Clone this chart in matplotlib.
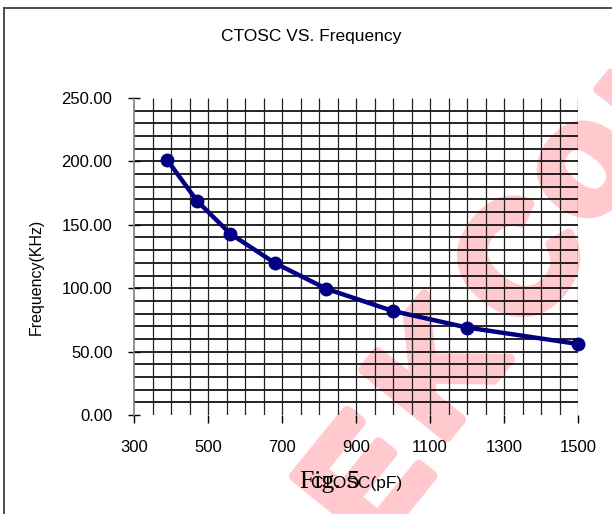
import numpy as np
import matplotlib
matplotlib.use("Agg")
import matplotlib.pyplot as plt
from matplotlib.lines import Line2D
import matplotlib.patheffects as pe

# ---- data ----
ctosc_pf = [390, 470, 560, 680, 820, 1000, 1200, 1500]
freq_khz = [201, 169, 143, 120, 99.5, 82, 69, 56]
x_ticks = [300, 500, 700, 900, 1100, 1300, 1500]
y_ticks = [0, 50, 100, 150, 200, 250]
y_tick_labels = ["0.00", "50.00", "100.00", "150.00", "200.00", "250.00"]
title = "CTOSC VS. Frequency"
x_label = "CTOSC(pF)"
y_label = "Frequency(KHz)"
fig_caption = "Fig. 5"
watermark_letters = ["E", "K", "C", "o", "m"]

W, H = 612, 514
plt.rcParams['font.family'] = ['Liberation Sans', 'DejaVu Sans']

fig = plt.figure(figsize=(W / 100, H / 100), dpi=100)
fig.patch.set_facecolor('white')

def fx(px):
    return px / W

def fy(py):
    return 1 - py / H

# watermark (behind everything)
wm_color = '#ffc9cd'
wm_pos = [(372, 486), (444, 376), (527, 267), (586, 170), (668, 70)]
for ch, (px, py) in zip(watermark_letters, wm_pos):
    fig.text(fx(px), fy(py), ch, fontsize=112, fontweight='bold', color=wm_color,
             rotation=51, rotation_mode='anchor', ha='center', va='center',
             zorder=0,
             path_effects=[pe.withStroke(linewidth=7.5, foreground=wm_color)])

# figure frame
fig.add_artist(Line2D([fx(4), 1.0], [fy(8), fy(8)], color='#404040', lw=1.3, zorder=1))
fig.add_artist(Line2D([fx(4), fx(4)], [0.0, fy(8)], color='#404040', lw=1.3, zorder=1))

ax = fig.add_axes([fx(134), fy(415), fx(578) - fx(134), fy(98) - fy(415)])
ax.set_facecolor('none')
ax.set_zorder(2)
ax.set_xlim(300, 1500)
ax.set_ylim(0, 250)

# grid
ax.hlines(np.arange(10, 250, 10), 300, 1500, color='black', lw=1.2, zorder=1)
ax.vlines(np.arange(350, 1501, 50), 0, 250, color='#222222', lw=0.9, zorder=1)

for s in ['top', 'right', 'bottom']:
    ax.spines[s].set_visible(False)
ax.spines['left'].set_color('#808080')
ax.spines['left'].set_linewidth(1.2)

ax.set_xticks(x_ticks)
ax.set_xticklabels([str(v) for v in x_ticks])
ax.set_yticks(y_ticks)
ax.set_yticklabels(y_tick_labels)
ax.tick_params(axis='x', direction='out', length=6, width=1, color='black',
               labelsize=12, pad=12)
ax.tick_params(axis='y', direction='inout', length=9, width=1, color='black',
               labelsize=12, pad=11)

ax.plot(ctosc_pf, freq_khz, color='#000080', lw=3.2, marker='o', markersize=9,
        markerfacecolor='#000080', markeredgecolor='#000080', zorder=3, clip_on=False)

fig.text(fx(311), fy(37), title, fontsize=12.5, ha='center', va='center')
fig.text(fx(36), fy(277), y_label, fontsize=11.5, rotation=90, ha='center', va='center')
fig.text(fx(356), fy(488), x_label, fontsize=12.5, ha='center', va='baseline')
fig.text(fx(300), fy(488), fig_caption, fontsize=18.5, ha='left', va='baseline',
         family=['Liberation Serif', 'DejaVu Serif'])

fig.savefig('out.png', dpi=100)
